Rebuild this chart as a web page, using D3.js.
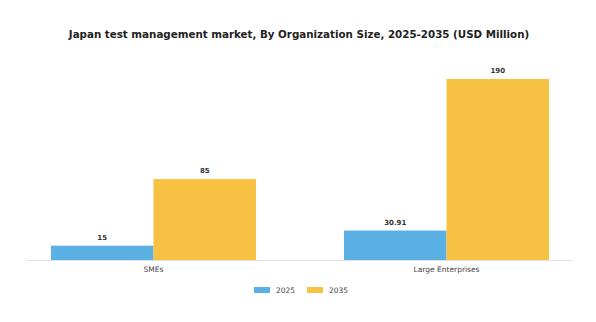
<!DOCTYPE html>
<html>
<head>
<meta charset="utf-8">
<script src="https://cdn.jsdelivr.net/npm/d3@7"></script>
<style>
  body { margin: 0; background: #fff; }
  text { font-family: "DejaVu Sans", sans-serif; }
</style>
</head>
<body>
<svg id="chart"></svg>
<script>
// data
var categories = ["SMEs", "Large Enterprises"];
var years = ["2025", "2035"];
var values2025 = [15, 30.91];
var values2035 = [85, 190];
var valueLabels2025 = ["15", "30.91"];
var valueLabels2035 = ["85", "190"];

var width = 596, height = 322;
var baseline = 260;

var svg = d3.select("#chart")
  .attr("width", width)
  .attr("height", height);

var color = d3.scaleOrdinal()
  .domain(years)
  .range(["#5aafe3", "#f7c244"]);

// x scales
var x0 = d3.scaleBand()
  .domain(categories)
  .range([7, 593])
  .paddingInner(0.3)
  .paddingOuter(0.15);

var x1 = d3.scaleBand()
  .domain(years)
  .range([0, x0.bandwidth()]);

var y = d3.scaleLinear()
  .domain([0, 190])
  .range([baseline, 79]);

var rows = categories.map(function(c, i) {
  return {
    cat: c,
    vals: [
      { year: "2025", v: values2025[i], label: valueLabels2025[i] },
      { year: "2035", v: values2035[i], label: valueLabels2035[i] }
    ]
  };
});

// title
svg.append("text")
  .attr("x", width / 2 + 1)
  .attr("y", 38)
  .attr("text-anchor", "middle")
  .style("font-weight", 700)
  .style("font-size", "10.3px")
  .style("fill", "#222")
  .text("Japan test management market, By Organization Size, 2025-2035 (USD Million)");

// bars
var groups = svg.selectAll(".grp")
  .data(rows)
  .enter().append("g")
  .attr("transform", function(d) { return "translate(" + x0(d.cat) + ",0)"; });

groups.selectAll("rect")
  .data(function(d) { return d.vals; })
  .enter().append("rect")
  .attr("x", function(d) { return x1(d.year); })
  .attr("y", function(d) { return y(d.v); })
  .attr("width", x1.bandwidth())
  .attr("height", function(d) { return baseline - y(d.v); })
  .attr("fill", function(d) { return color(d.year); });

groups.selectAll(".lbl")
  .data(function(d) { return d.vals; })
  .enter().append("text")
  .attr("x", function(d) { return x1(d.year) + x1.bandwidth() / 2; })
  .attr("y", function(d) { return y(d.v) - 6; })
  .attr("text-anchor", "middle")
  .style("font-size", "7px")
  .style("font-weight", 700)
  .style("fill", "#333")
  .text(function(d) { return d.label; });

// x axis
var xAxis = svg.append("g")
  .attr("transform", "translate(0," + baseline + ")")
  .call(d3.axisBottom(x0).tickSize(0).tickPadding(7));
xAxis.select(".domain").remove();
xAxis.selectAll("text")
  .style("font-size", "7.5px")
  .style("fill", "#444")
  .style("font-family", "DejaVu Sans, sans-serif");

svg.append("line")
  .attr("x1", 26).attr("x2", 573)
  .attr("y1", baseline + 0.5).attr("y2", baseline + 0.5)
  .style("stroke", "#e3e3e3")
  .style("stroke-width", 1);

// legend
var legend = svg.selectAll(".leg")
  .data(years)
  .enter().append("g")
  .attr("transform", function(d, i) { return "translate(" + (254 + i * 53) + ",290)"; });

legend.append("rect")
  .attr("x", 0)
  .attr("y", -3)
  .attr("width", 16)
  .attr("height", 6)
  .attr("fill", function(d) { return color(d); });

legend.append("text")
  .attr("x", 22)
  .attr("y", 3)
  .style("font-size", "7.5px")
  .style("fill", "#444")
  .text(function(d) { return d; });
</script>
</body>
</html>
